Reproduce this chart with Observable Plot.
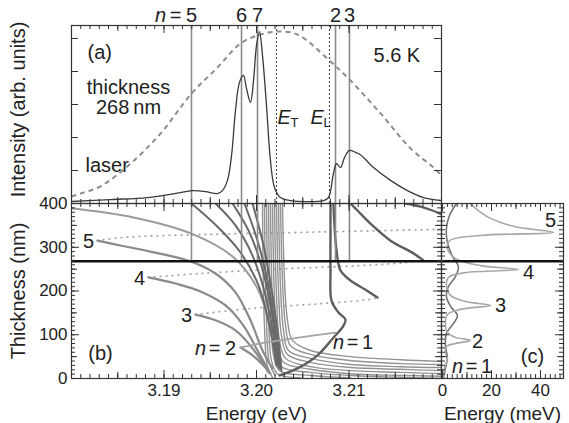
<!DOCTYPE html>
<html><head><meta charset="utf-8">
<script src="https://cdn.jsdelivr.net/npm/d3@7"></script>
<script src="https://cdn.jsdelivr.net/npm/@observablehq/plot@0.6"></script>
<style>
body{margin:0;background:#fff;}
#fig{position:relative;width:569px;height:423px;background:#fff;}
#fig svg{position:absolute;left:0;top:0;}
</style></head><body><div id="fig"></div>
<script>
// ---------- panel (a): spectra ----------
const laserE = [3.18000,3.18097,3.18314,3.18638,3.18962,3.19297,3.19578,3.19827,3.20043,3.20227,3.20443,3.20789,3.21005,3.21341,3.21665,3.21914,3.22000];
const laserI = [0.21,0.30,0.52,1.21,2.12,3.33,4.12,4.85,5.12,5.21,5.12,4.33,3.76,2.73,1.67,1.09,0.85];
const plE = [3.18000,3.18422,3.18822,3.19178,3.19319,3.19449,3.19578,3.19632,3.19686,3.19730,3.19773,3.19816,3.19859,3.19892,3.19935,3.19968,3.20000,3.20032,3.20065,3.20108,3.20151,3.20195,3.20259,3.20368,3.20724,3.20778,3.20832,3.20865,3.20908,3.20951,3.21005,3.21070,3.21124,3.21265,3.21449,3.21632,3.21805,3.22000];
const plI = [0.06,0.12,0.18,0.33,0.39,0.36,0.30,0.39,0.70,1.45,2.82,3.67,3.88,3.48,3.06,3.73,4.79,5.21,4.48,2.97,1.30,0.48,0.18,0.09,0.09,0.18,0.91,1.21,1.09,1.39,1.61,1.55,1.48,1.09,0.70,0.39,0.18,0.09];
const markerN = ["5","6","7","2","3"];
const markerE = [3.19297,3.19838,3.20011,3.20854,3.21005];
const energyT = 3.20216, energyL = 3.20789;
const sampleThickness = 268;

// ---------- panel (b): mode energies vs thickness [E (eV), d (nm)] ----------
const n5Lower = [[3.18281,315],[3.18530,304],[3.18854,290],[3.19297,267],[3.19557,240],[3.19773,197],[3.19935,133],[3.20065,64],[3.20173,23]];
const n5Upper = [[3.18281,315],[3.18530,322],[3.19395,329],[3.20476,334],[3.22000,341]];
const n5Right = [[3.21611,400],[3.21773,393],[3.21903,384],[3.22000,375]];
const n4Lower = [[3.18832,231],[3.19124,217],[3.19395,199],[3.19665,167],[3.19859,121],[3.20011,64],[3.20130,18]];
const n4Upper = [[3.18832,231],[3.19395,240],[3.20292,251],[3.21124,258],[3.21611,265],[3.21805,270]];
const n4Right = [[3.21805,270],[3.21697,286],[3.21449,315],[3.21232,354],[3.21092,384],[3.21016,400]];
const n3Lower = [[3.19341,146],[3.19557,133],[3.19773,110],[3.19935,75],[3.20065,37],[3.20130,14]];
const n3Upper = [[3.19341,146],[3.19935,160],[3.20692,171],[3.21232,181],[3.21308,185]];
const n3Right = [[3.21308,185],[3.21178,203],[3.21016,224],[3.20908,247],[3.20865,293],[3.20843,350],[3.20832,400]];
const n2Lower = [[3.19827,71],[3.19957,53],[3.20065,32],[3.20151,11]];
const n2Upper = [[3.19827,71],[3.20043,80],[3.20476,94],[3.20854,105]];
const n1Curve = [[3.20249,7],[3.20443,23],[3.20659,53],[3.20822,91],[3.20941,121],[3.20962,135],[3.20886,151],[3.20811,178],[3.20800,247],[3.20800,338],[3.20800,400]];
const fan = [
  [[3.18000,389],[3.18670,368],[3.19297,331],[3.19751,277],[3.20022,201],[3.20151,110],[3.20216,30]],
  [[3.19297,400],[3.19578,347],[3.19827,288],[3.20022,213],[3.20140,121],[3.20216,30]],
  [[3.19557,400],[3.19773,350],[3.19957,281],[3.20097,190],[3.20184,98],[3.20238,25]],
  [[3.19741,400],[3.19914,338],[3.20054,258],[3.20151,167],[3.20216,75],[3.20249,23]],
  [[3.19870,400],[3.20011,315],[3.20130,213],[3.20205,110],[3.20259,23]],
  [[3.19957,400],[3.20076,304],[3.20173,190],[3.20238,87],[3.20270,18]]
];
const cluster = [
  [[3.20281,400],[3.20303,224],[3.20335,133],[3.20389,87],[3.20584,64],[3.21016,50],[3.21557,43],[3.22000,39]],
  [[3.20259,400],[3.20281,224],[3.20314,121],[3.20368,75],[3.20584,55],[3.21016,41],[3.21557,34],[3.22000,32]],
  [[3.20238,400],[3.20259,213],[3.20292,110],[3.20346,64],[3.20584,46],[3.21016,32],[3.21557,27],[3.22000,25]],
  [[3.20216,400],[3.20238,201],[3.20270,98],[3.20335,55],[3.20584,37],[3.21016,25],[3.21557,21],[3.22000,18]],
  [[3.20195,400],[3.20216,190],[3.20249,87],[3.20314,46],[3.20584,27],[3.21016,18],[3.21557,14],[3.22000,11]],
  [[3.20173,400],[3.20195,178],[3.20227,75],[3.20292,37],[3.20584,21],[3.21016,11],[3.21557,7],[3.22000,5]],
  [[3.20151,400],[3.20173,167],[3.20205,64],[3.20270,27],[3.20584,14],[3.21016,7],[3.22000,0]],
  [[3.20130,400],[3.20151,155],[3.20184,53],[3.20249,18],[3.20584,7],[3.21016,2]],
  [[3.20108,400],[3.20130,144],[3.20162,41],[3.20227,11],[3.20476,2]],
  [[3.20086,400],[3.20108,133],[3.20141,34],[3.20205,7]],
  [[3.20065,400],[3.20086,121],[3.20119,27],[3.20173,2]]
];

// ---------- panel (c): [E (meV), d (nm)] ----------
const splitLight = [[0.4,0],[0.8,23],[2.0,46],[1.2,59],[1.6,73],[5.3,80],[11.4,87],[5.3,94],[2.0,105],[1.2,128],[2.0,146],[7.3,158],[19.6,167],[9.4,176],[3.3,190],[1.6,213],[2.4,231],[9.4,242],[31.0,249],[15.5,258],[5.3,274],[2.0,297],[2.9,315],[15.5,327],[45.3,334],[29.8,347],[19.6,366],[13.5,389],[11.4,400]];
const splitDark = [[5.7,400],[2.9,373],[1.6,343],[2.0,311],[4.1,279],[6.5,256],[5.3,233],[2.4,210],[1.6,187],[3.3,165],[6.1,144],[4.1,123],[1.6,103],[1.2,75],[2.0,48],[1.2,23],[0.4,0]];

const eTicks = [3.19, 3.20, 3.21];
const dTicks = [0, 100, 200, 300, 400];
const meVTicks = [0, 20, 40];

// ---------- drawing ----------
const W = 569, H = 423;
const ink = "#333";
const font = '"Liberation Sans", Arial, Helvetica, sans-serif';
const base = {width: W, height: H, style: {fontFamily: font, fontSize: "17px", background: "transparent", overflow: "visible", color: "#222"}};
const tX = (vals, len, side, inner) => Plot.tickX(vals, {x: d => d, stroke: ink, strokeWidth: 1, [side === "bottom" ? "insetTop" : "insetBottom"]: inner - len});
const tY = (vals, len, side, inner) => Plot.tickY(vals, {y: d => d, stroke: ink, strokeWidth: 1, [side === "left" ? "insetRight" : "insetLeft"]: inner - len});
const pairs = (xs, ys) => xs.map((x, i) => [x, ys[i]]);
const L = (data, o) => Plot.line(data, {x: d => d[0], y: d => d[1], curve: "catmull-rom", clip: true, strokeLinecap: "round", strokeLinejoin: "round", ...o});
const T = (s, x, y, o = {}) => Plot.text([s], {x: [x], y: [y], text: d => d, fontSize: 20, fill: "#222", ...o});
const yTitle = (s, dy = 0) => Plot.text([s], {frameAnchor: "left", textAnchor: "middle", lineAnchor: "middle", rotate: -90, dx: -53, dy, text: d => d, fontSize: 20, fill: "#222"});
const xTitle = (s) => Plot.text([s], {frameAnchor: "bottom", textAnchor: "middle", lineAnchor: "middle", dy: 35, text: d => d, fontSize: 19, fill: "#222"});

const eMinor = d3.range(3.180, 3.2204, 0.001), eMid = d3.range(3.185, 3.22, 0.01), eMajor = [3.18, 3.19, 3.20, 3.21, 3.22];
const dMinor = d3.range(0, 401, 10), dMid = [50, 150, 250, 350], dMajor = dTicks;
const mMinor = d3.range(0, 50, 2), mMid = [10, 30], mMajor = meVTicks;

const aIn = 178, bIn = 175, abW = 370, cW = 122;

// panel (a)
const topLab = {frameAnchor: "top", lineAnchor: "middle", dy: -10, text: d => d, fontSize: 20, fill: "#222"};
const panelA = Plot.plot({...base,
  marginLeft: 71, marginRight: 128, marginTop: 25, marginBottom: 220,
  x: {domain: [3.18, 3.22], axis: null}, y: {domain: [0, 5.394], axis: null},
  marks: [
    Plot.ruleX(markerE, {x: d => d, stroke: "#8a8a8a", strokeWidth: 1.6}),
    Plot.ruleX([energyT, energyL], {x: d => d, stroke: "#444", strokeWidth: 1.1, strokeDasharray: "2,2"}),
    L(pairs(laserE, laserI), {stroke: "#8c8c8c", strokeWidth: 2, strokeDasharray: "5,4", strokeLinecap: "butt"}),
    L(pairs(plE, plI), {stroke: "#3a3a3a", strokeWidth: 1.3}),
    Plot.frame({stroke: ink, strokeWidth: 1.2}),
    tX(eMinor, 4, "top", aIn), tX(eMid, 6, "top", aIn), tX(eMajor, 8, "top", aIn),
    tX(eMinor, 4, "bottom", aIn), tX(eMid, 6, "bottom", aIn), tX(eMajor, 8, "bottom", aIn),
    tY([1, 2, 3, 4, 5], 7, "left", abW), tY([1, 2, 3, 4, 5], 7, "right", abW),
    Plot.text(markerN, {x: markerE, ...topLab}),
    Plot.text(["n"], {x: [markerE[0]], ...topLab, dx: -31, fontStyle: "italic"}),
    Plot.text(["="], {x: [markerE[0]], ...topLab, dx: -16}),
    T("(a)", 3.18173, 4.58, {textAnchor: "start"}),
    T("thickness\n268\u2009nm", 3.18616, 3.21, {lineHeight: 1.0}),
    T("laser", 3.18151, 1.15, {textAnchor: "start"}),
    T("5.6 K", 3.21265, 4.48, {textAnchor: "start"}),
    T("E", energyT, 2.61, {textAnchor: "start", dx: 1, fontStyle: "italic"}),
    T("T", energyT, 2.61, {textAnchor: "start", dx: 14, dy: 5, fontSize: 13}),
    T("E", energyL, 2.61, {textAnchor: "start", dx: -19, fontStyle: "italic"}),
    T("L", energyL, 2.61, {textAnchor: "start", dx: -6, dy: 5, fontSize: 13}),
    yTitle("Intensity (arb. units)", -5)
  ]
});

// panel (b)
const dotted = {stroke: "#a3a3a3", strokeWidth: 1.8, strokeDasharray: "0.5,5.5", strokeLinecap: "round"};
const panelB = Plot.plot({...base,
  marginLeft: 71, marginRight: 128, marginTop: 203, marginBottom: 45,
  x: {domain: [3.18, 3.22]}, y: {domain: [0, 400]},
  marks: [
    L(n5Upper, dotted), L(n4Upper, dotted), L(n3Upper, dotted),
    ...cluster.map(c => L(c, {stroke: "#939393", strokeWidth: 1.4})),
    L(fan[0], {stroke: "#9a9a9a", strokeWidth: 2}),
    ...fan.slice(1).map(c => L(c, {stroke: "#686868", strokeWidth: 2})),
    L(n5Lower, {stroke: "#8a8a8a", strokeWidth: 2.2}),
    L(n4Lower, {stroke: "#8a8a8a", strokeWidth: 2.2}),
    L(n3Lower, {stroke: "#8a8a8a", strokeWidth: 2.2}),
    L(n2Lower, {stroke: "#8a8a8a", strokeWidth: 2.2}),
    L(n2Upper, {stroke: "#a4a4a4", strokeWidth: 1.8}),
    L(n5Right, {stroke: "#5e5e5e", strokeWidth: 2.4}),
    L(n4Right, {stroke: "#5e5e5e", strokeWidth: 2.4}),
    L(n3Right, {stroke: "#5e5e5e", strokeWidth: 2.4}),
    L(n1Curve, {stroke: "#5e5e5e", strokeWidth: 2.4}),
    Plot.ruleX(markerE, {x: d => d, y1: sampleThickness, y2: 400, stroke: "#8a8a8a", strokeWidth: 1.6}),
    Plot.ruleY([sampleThickness], {y: d => d, stroke: "#111", strokeWidth: 2.3}),
    Plot.frame({stroke: ink, strokeWidth: 1.2}),
    tX(eMinor, 4, "top", bIn), tX(eMid, 6, "top", bIn), tX(eMajor, 8, "top", bIn),
    tX(eMinor, 4, "bottom", bIn), tX(eMid, 6, "bottom", bIn), tX(eMajor, 8, "bottom", bIn),
    tY(dMinor, 4, "left", abW), tY(dMid, 6, "left", abW), tY(dMajor, 8, "left", abW),
    tY(dMinor, 4, "right", abW), tY(dMid, 6, "right", abW), tY(dMajor, 8, "right", abW),
    Plot.axisX({ticks: eTicks, tickSize: 0, tickPadding: 5, tickFormat: d => d.toFixed(2), fontSize: 17, label: null}),
    Plot.axisY({ticks: dTicks, tickSize: 0, tickPadding: 4, fontSize: 17, label: null}),
    xTitle("Energy (eV)"),
    yTitle("Thickness (nm)"),
    T("5", 3.18184, 313), T("4", 3.18735, 229), T("3", 3.19243, 144),
    T("2", 3.19719, 69), T("=", 3.19719, 69, {dx: -16}), T("n", 3.19719, 69, {dx: -30, fontStyle: "italic"}),
    T("1", 3.21200, 82), T("=", 3.21200, 82, {dx: -15}), T("n", 3.21200, 82, {dx: -29, fontStyle: "italic"}),
    T("(b)", 3.18314, 57)
  ]
});

// panel (c)
const panelC = Plot.plot({...base,
  marginLeft: 441, marginRight: 6, marginTop: 203, marginBottom: 45,
  x: {domain: [-0.4, 49.4]}, y: {domain: [0, 400], axis: null},
  marks: [
    L(splitDark, {stroke: "#747474", strokeWidth: 1.6}),
    L(splitLight, {stroke: "#a8a8a8", strokeWidth: 1.6}),
    Plot.ruleY([sampleThickness], {y: d => d, stroke: "#111", strokeWidth: 2.3}),
    Plot.frame({stroke: ink, strokeWidth: 1.2}),
    tX(mMinor, 4, "top", bIn), tX(mMid, 6, "top", bIn), tX(mMajor, 8, "top", bIn),
    tX(mMinor, 4, "bottom", bIn), tX(mMid, 6, "bottom", bIn), tX(mMajor, 8, "bottom", bIn),
    tY(dMinor, 4, "left", cW), tY(dMid, 6, "left", cW), tY(dMajor, 8, "left", cW),
    tY(dMinor, 4, "right", cW), tY(dMid, 6, "right", cW), tY(dMajor, 8, "right", cW),
    Plot.axisX({ticks: meVTicks, tickSize: 0, tickPadding: 5, fontSize: 17, label: null}),
    xTitle("Energy (meV)"),
    T("5", 44.1, 361), T("4", 35.1, 242), T("3", 23.7, 167), T("2", 14.3, 85),
    T("1", 18.0, 27), T("=", 18.0, 27, {dx: -15}), T("n", 18.0, 27, {dx: -29, fontStyle: "italic"}),
    T("(c)", 36.7, 50)
  ]
});

const fig = document.getElementById("fig");
fig.append(panelB, panelC, panelA);
</script></body></html>
